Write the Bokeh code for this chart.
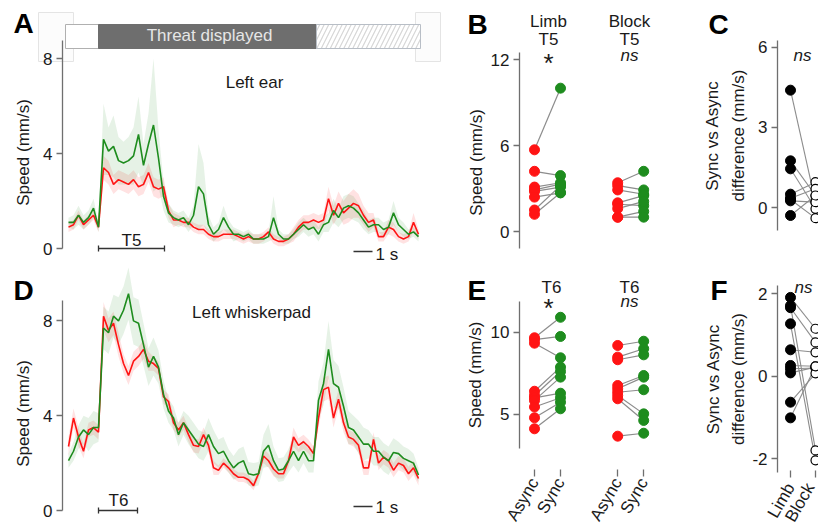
import math
from bokeh.plotting import figure
from bokeh.layouts import row, column
from bokeh.models import Range1d, FixedTicker, Label, ColumnDataSource
from bokeh.embed import file_html
from bokeh.resources import INLINE

FONT = "Liberation Sans"
TXT = "#1a1a1a"
AXC = "#6f6f6f"
RED = "#ff1414"
GREEN = "#1e8c1e"
LINK = "#8c8c8c"

# ------------------------------------------------------------------ data
# time (s) relative to threat onset, sampled every 0.25 s
time_s = [round(-1.5 + 0.25 * i, 2) for i in range(71)]

threat_start = 0.0
threat_end = 10.9
trace_end = 16.1
t5_window = (0.0, 3.3)
t6_window = (0.0, 1.95)

# Panel A - Left ear speed (mm/s)
ear_async = [0.9, 1.0, 1.4, 1.0, 1.2, 1.4,
             0.9, 3.4, 3.2, 2.7, 2.9, 2.8, 2.7, 2.9,
             2.6, 2.7, 3.2, 2.6, 2.5, 2.6, 1.6, 1.2,
             1.2, 1.1, 1.1, 0.9, 0.8, 0.8, 0.6, 0.5,
             0.5, 0.6, 0.6, 0.6, 0.5, 0.4, 0.5, 0.4,
             0.4, 0.5, 0.7, 0.4, 0.3, 0.3, 0.4, 0.6,
             0.9, 1.1, 1.1, 1.2, 1.1, 1.2, 2.1, 1.4,
             1.9, 1.5, 1.7, 1.9, 1.8, 1.4, 1.1, 1.2,
             0.5, 0.5, 0.9, 0.8, 0.5, 0.4, 0.5, 1.1,
             0.6]
ear_async_sem = [0.2, 0.2, 0.2, 0.2, 0.2, 0.2,
                 0.2, 0.5, 0.5, 0.4, 0.4, 0.4, 0.4, 0.4,
                 0.4, 0.4, 0.4, 0.4, 0.4, 0.4, 0.3, 0.3,
                 0.2, 0.2, 0.2, 0.2, 0.2, 0.2, 0.2, 0.2,
                 0.2, 0.2, 0.2, 0.2, 0.2, 0.2, 0.2, 0.2,
                 0.2, 0.2, 0.2, 0.2, 0.2, 0.2, 0.2, 0.3,
                 0.3, 0.3, 0.3, 0.3, 0.3, 0.3, 0.5, 0.4,
                 0.5, 0.5, 0.6, 0.6, 0.5, 0.4, 0.4, 0.3,
                 0.2, 0.2, 0.3, 0.3, 0.2, 0.2, 0.2, 0.4,
                 0.2]
ear_sync = [1.1, 1.1, 1.4, 1.1, 1.3, 1.7,
            0.9, 4.6, 4.1, 4.3, 3.7, 3.6, 3.7, 3.9,
            4.8, 3.5, 4.4, 5.2, 3.8, 2.2, 1.5, 1.3,
            1.2, 1.3, 1.0, 1.4, 2.6, 2.3, 1.0, 0.6,
            0.8, 1.3, 0.9, 0.6, 0.6, 0.5, 0.6, 0.4,
            0.4, 0.4, 0.5, 1.3, 0.6, 0.4, 0.4, 0.6,
            0.8, 1.0, 0.8, 0.9, 0.6, 1.0, 1.1, 1.6,
            1.3, 1.7, 1.8, 1.7, 1.5, 1.2, 0.9, 1.0,
            1.0, 0.8, 0.9, 1.5, 1.0, 0.8, 0.6, 0.7,
            0.5]
ear_sync_sem = [0.2, 0.3, 0.4, 0.3, 0.3, 0.4,
                0.2, 1.5, 1.0, 1.3, 1.0, 0.9, 1.0, 1.2,
                1.6, 0.9, 1.3, 2.8, 1.2, 0.6, 0.4, 0.3,
                0.3, 0.3, 0.3, 0.4, 1.8, 1.3, 0.4, 0.3,
                0.3, 0.5, 0.3, 0.3, 0.2, 0.2, 0.2, 0.2,
                0.2, 0.2, 0.2, 0.9, 0.2, 0.2, 0.2, 0.2,
                0.3, 0.3, 0.3, 0.3, 0.3, 0.3, 0.4, 0.5,
                0.4, 0.5, 0.5, 0.5, 0.4, 0.4, 0.3, 0.3,
                0.3, 0.3, 0.3, 0.5, 0.3, 0.3, 0.2, 0.2,
                0.2]

# Panel D - Left whiskerpad speed (mm/s)
whisk_async = [2.7, 3.9, 3.1, 2.5, 3.4, 3.5,
               3.3, 8.2, 7.6, 7.9, 7.0, 6.2, 5.7, 6.3,
               6.5, 6.8, 6.3, 6.2, 6.0, 4.8, 4.6, 3.7,
               3.4, 3.7, 3.2, 2.75, 2.7, 3.2, 2.75, 1.8,
               1.7, 2.0, 1.8, 1.55, 1.4, 1.4, 1.3, 1.05,
               1.55, 2.3, 2.1, 1.75, 1.55, 1.55, 2.1, 3.1,
               2.75, 2.9, 2.7, 2.4, 3.9, 5.1, 5.2, 3.9,
               4.7, 3.7, 3.1, 3.0, 2.75, 1.8, 1.8, 3.0,
               2.0, 2.25, 2.1, 1.7, 2.0, 1.9, 1.55, 1.8,
               1.35]
whisk_async_sem = [0.4, 0.4, 0.4, 0.3, 0.3, 0.3,
                   0.3, 0.6, 0.5, 0.5, 0.5, 0.4, 0.4, 0.4,
                   0.4, 0.4, 0.4, 0.3, 0.3, 0.3, 0.3, 0.3,
                   0.3, 0.3, 0.3, 0.3, 0.3, 0.3, 0.3, 0.3,
                   0.2, 0.2, 0.2, 0.2, 0.2, 0.2, 0.2, 0.2,
                   0.2, 0.3, 0.3, 0.3, 0.2, 0.2, 0.3, 0.4,
                   0.3, 0.3, 0.3, 0.3, 0.4, 0.5, 0.5, 0.4,
                   0.4, 0.4, 0.3, 0.3, 0.3, 0.3, 0.3, 0.3,
                   0.3, 0.3, 0.3, 0.3, 0.3, 0.3, 0.3, 0.3,
                   0.3]
whisk_sync = [2.1, 2.5, 3.1, 3.4, 3.2, 3.5,
              3.5, 7.7, 7.5, 8.2, 8.0, 8.45, 9.15, 8.0,
              7.9, 7.0, 6.05, 6.5, 6.05, 4.9, 4.2, 3.9,
              3.2, 3.7, 3.4, 3.1, 2.8, 2.7, 3.2, 2.7,
              2.4, 2.5, 2.1, 1.8, 2.0, 2.1, 1.55, 1.5,
              1.55, 2.5, 2.75, 2.1, 1.7, 1.75, 2.1, 2.5,
              2.1, 2.5, 2.1, 2.1, 4.65, 5.35, 6.8, 5.35,
              5.2, 4.4, 3.5, 3.4, 3.1, 2.8, 2.8, 2.5,
              2.5, 2.25, 2.1, 2.45, 2.4, 2.2, 2.1, 2.0,
              1.5]
whisk_sync_sem = [0.3, 0.4, 0.5, 0.6, 0.7, 0.7,
                  0.6, 0.9, 0.9, 0.9, 1.0, 1.0, 1.1, 1.0,
                  1.0, 0.9, 0.8, 0.8, 0.7, 0.6, 0.5, 0.5,
                  0.5, 0.5, 0.6, 0.6, 0.6, 0.6, 0.7, 0.7,
                  0.6, 0.6, 0.5, 0.5, 0.6, 0.6, 0.5, 0.5,
                  0.5, 0.7, 0.9, 0.6, 0.5, 0.5, 0.5, 0.6,
                  0.5, 0.5, 0.5, 0.5, 0.8, 0.9, 1.2, 1.0,
                  0.9, 0.8, 0.7, 0.6, 0.7, 0.7, 0.6, 0.6,
                  0.6, 0.6, 0.6, 0.6, 0.5, 0.5, 0.5, 0.4,
                  0.3]

# Panel B - mean ear speed during T5 (mm/s), paired per animal
b_limb_async = [5.7, 4.2, 3.1, 2.9, 2.8, 2.4, 1.5, 1.2]
b_limb_sync = [10.0, 3.9, 3.4, 3.3, 3.1, 2.7, 3.2, 2.7]
b_block_async = [3.4, 3.2, 2.9, 2.0, 1.9, 1.6, 1.0, 1.0]
b_block_sync = [4.2, 2.9, 2.6, 2.5, 1.8, 2.1, 1.4, 1.0]

# Panel C - Sync minus Async difference (mm/s)
c_limb = [4.4, 1.75, 1.45, 0.5, 0.35, 0.3, 0.25, -0.3]
c_block = [0.2, 0.45, -0.05, 0.95, 0.7, -0.4, 0.2, 0.45]

# Panel E - mean whiskerpad speed during T6 (mm/s)
e_limb_async = [9.66, 9.55, 9.33, 6.4, 6.14, 6.0, 5.84, 5.44, 4.78, 4.11]
e_limb_sync = [10.91, 9.74, 8.44, 7.87, 7.6, 6.28, 7.26, 6.0, 5.73, 5.33]
e_block_async = [9.19, 8.48, 8.32, 6.75, 6.55, 6.34, 6.14, 5.94, 3.66]
e_block_sync = [9.45, 8.99, 8.62, 7.36, 7.26, 6.49, 5.02, 4.62, 3.84]

# Panel F - Sync minus Async difference (mm/s)
f_limb = [1.91, 1.71, 1.66, 1.27, 0.64, 0.26, 0.18, 0.08, -0.63, -1.01]
f_block = [1.15, -1.8, 0.82, -2.04, 0.58, 0.24, 0.2, 0.22, 0.07, 0.24]

cond_labels = ["Async", "Sync", "Async", "Sync"]
group_labels = ["Limb", "Block"]
speed_title = "Speed (mm/s)"
diff_title = "Sync vs Async\ndifference (mm/s)"

for arr in (ear_async, ear_async_sem, ear_sync, ear_sync_sem,
            whisk_async, whisk_async_sem, whisk_sync, whisk_sync_sem):
    assert len(arr) == len(time_s), len(arr)

# ------------------------------------------------------------------ helpers

def base_fig(w, h, xr, yr, xaxis):
    p = figure(width=w, height=h, x_range=Range1d(*xr), y_range=Range1d(*yr),
               output_backend="svg", toolbar_location=None,
               x_axis_location=("below" if xaxis else None))
    p.min_border_left = p.min_border_right = 0
    p.min_border_top = p.min_border_bottom = 0
    p.outline_line_color = None
    p.grid.visible = False
    p.background_fill_color = "white"
    p.border_fill_color = "white"
    return p


def style_y(p, at, ticks, bounds, label, label_standoff, overrides=None):
    ax = p.yaxis[0]
    ax.fixed_location = at
    ax.ticker = FixedTicker(ticks=ticks)
    ax.bounds = bounds
    if label:
        ax.axis_label = label
    ax.axis_line_color = AXC
    ax.axis_line_width = 1.3
    ax.major_tick_line_color = AXC
    ax.major_tick_line_width = 1.3
    ax.major_tick_out = 6
    ax.major_tick_in = 0
    ax.minor_tick_line_color = None
    ax.major_label_text_font = FONT
    ax.major_label_text_font_size = "17px"
    ax.major_label_text_color = TXT
    ax.major_label_standoff = 4
    ax.axis_label_text_font = FONT
    ax.axis_label_text_font_size = "17px"
    ax.axis_label_text_font_style = "normal"
    ax.axis_label_text_color = TXT
    ax.axis_label_text_line_height = 1.35
    ax.axis_label_standoff = label_standoff
    if overrides:
        ax.major_label_overrides = overrides


def style_x(p, at, ticks, names, standoff):
    ax = p.xaxis[0]
    ax.fixed_location = at
    ax.ticker = FixedTicker(ticks=ticks)
    ax.major_label_overrides = {t: n for t, n in zip(ticks, names)}
    ax.axis_line_color = None
    ax.major_tick_line_color = AXC
    ax.major_tick_line_width = 1.3
    ax.major_tick_out = 7
    ax.major_tick_in = 0
    ax.minor_tick_line_color = None
    ax.major_label_text_font = FONT
    ax.major_label_text_font_size = "17px"
    ax.major_label_text_color = TXT
    ax.major_label_orientation = math.radians(60)
    ax.major_label_standoff = standoff


def lab(p, x, y, text, size="17px", align="center", style="normal", color=TXT, angle=0.0):
    # y is the visual middle of the text line
    p.add_layout(Label(x=x, y=y, text=text, text_font=FONT, text_font_size=size,
                       text_align=align, text_baseline="middle", angle=angle,
                       text_font_style=style, text_color=color))


def traces(p, a, a_sem, s, s_sem):
    src = ColumnDataSource(dict(
        t=time_s, a=a, s=s,
        a_lo=[m - e for m, e in zip(a, a_sem)], a_hi=[m + e for m, e in zip(a, a_sem)],
        s_lo=[m - e for m, e in zip(s, s_sem)], s_hi=[m + e for m, e in zip(s, s_sem)]))
    p.varea(x="t", y1="a_lo", y2="a_hi", source=src, fill_color=RED, fill_alpha=0.12)
    p.varea(x="t", y1="s_lo", y2="s_hi", source=src, fill_color=GREEN, fill_alpha=0.11)
    p.line("t", "a", source=src, line_color=RED, line_width=1.6)
    p.line("t", "s", source=src, line_color=GREEN, line_width=1.6)


def pairs(p, xa, xs, av, sv):
    n = len(av)
    p.segment(x0=[xa] * n, y0=av, x1=[xs] * n, y1=sv, line_color=LINK, line_width=1.2)
    p.scatter([xa] * n, av, size=10, marker="circle", fill_color=RED, line_color=RED)
    p.scatter([xs] * n, sv, size=10, marker="circle", fill_color=GREEN, line_color=GREEN)


def diffs(p, limb, block):
    n = len(limb)
    p.segment(x0=[1] * n, y0=limb, x1=[2] * n, y1=block, line_color=LINK, line_width=1.1)
    p.scatter([1] * n, limb, size=10, marker="circle", fill_color="black", line_color="black")
    p.scatter([2] * n, block, size=9, marker="circle", fill_color="white",
              line_color="black", line_width=1.2)


def bracket(p, t0, t1, y, cap):
    p.segment(x0=[t0, t0, t1], y0=[y, y - cap, y - cap], x1=[t1, t0, t1], y1=[y, y + cap, y + cap],
              line_color="#333333", line_width=1.3)

# page-pixel -> data helpers (layout only)
tx = lambda px: (px - 98) / 20.0
vA = lambda py: (248 - py) / 23.75
vD = lambda py: (510 - py) / 23.7
bx = lambda px: 1 + (px - 534) / 26.0
vB = lambda py: (231 - py) / 14.333
vE = lambda py: 10 - (py - 331.7) / 16.4
cx = lambda px: 1 + (px - 790) / 25.0
vC = lambda py: (207 - py) / 26.667
vF = lambda py: (375.7 - py) / 41.25
XPOS = [1, 2, 4.2, 5.2]
UP = math.pi / 2

# ------------------------------------------------------------------ panel A
pA = base_fig(452, 264, (tx(0), tx(452)), (vA(264), vA(0)), False)
style_y(pA, tx(62), [0, 4, 8], (0, vA(40)), None, 9)
pA.quad(left=[tx(38), tx(415)], right=[tx(73), tx(440)], top=[vA(12)] * 2, bottom=[vA(61)] * 2,
        fill_color="#fcfcfc", line_color="#e4e4e4")
pA.quad(left=[tx(65)], right=[threat_start], top=[vA(24)], bottom=[vA(48)],
        fill_color="white", line_color="#b0b0b0")
pA.quad(left=[threat_start], right=[threat_end], top=[vA(24)], bottom=[vA(48)],
        fill_color="#6e6e6e", line_color="#6e6e6e")
pA.quad(left=[threat_end], right=[trace_end], top=[vA(24)], bottom=[vA(48)],
        fill_color="white", line_color="#b8bec6", hatch_pattern="/",
        hatch_color="#d6d6d6", hatch_scale=9, hatch_weight=1.2)
traces(pA, ear_async, ear_async_sem, ear_sync, ear_sync_sem)
bracket(pA, t5_window[0], t5_window[1], 0, 0.13)
pA.segment(x0=[tx(353)], y0=[vA(251)], x1=[tx(372)], y1=[vA(251)], line_color="#333333", line_width=1.3)
lab(pA, tx(13), vA(23), "A", size="28px", align="left", style="bold", color="black")
lab(pA, tx(22.5), vA(152), speed_title, angle=UP)
lab(pA, tx(209), vA(34.5), "Threat displayed", color="#e6e6e6")
lab(pA, tx(254), vA(82), "Left ear")
lab(pA, tx(131), vA(240), "T5")
lab(pA, tx(375), vA(254), "1 s", align="left")

# ------------------------------------------------------------------ panel D
pD = base_fig(452, 260, (tx(0), tx(452)), (vD(524), vD(264)), False)
style_y(pD, tx(62), [0, 4, 8], (0, vD(300)), None, 9)
traces(pD, whisk_async, whisk_async_sem, whisk_sync, whisk_sync_sem)
bracket(pD, t6_window[0], t6_window[1], 0, 0.13)
pD.segment(x0=[tx(353)], y0=[vD(506)], x1=[tx(372)], y1=[vD(506)], line_color="#333333", line_width=1.3)
lab(pD, tx(13), vD(290), "D", size="28px", align="left", style="bold", color="black")
lab(pD, tx(23), vD(413), speed_title, angle=UP)
lab(pD, tx(251), vD(311.7), "Left whiskerpad")
lab(pD, tx(118), vD(500), "T6")
lab(pD, tx(375), vD(507), "1 s", align="left")

# ------------------------------------------------------------------ panel B
pB = base_fig(224, 264, (bx(452), bx(676)), (vB(264), vB(0)), False)
style_y(pB, bx(519), [0, 6, 12], (vB(248), vB(52)), None, 3)
pairs(pB, XPOS[0], XPOS[1], b_limb_async, b_limb_sync)
pairs(pB, XPOS[2], XPOS[3], b_block_async, b_block_sync)
lab(pB, bx(467), vB(24), "B", size="28px", align="left", style="bold", color="black")
lab(pB, bx(475.5), vB(162), speed_title, angle=UP)
lab(pB, bx(548), vB(21), group_labels[0])
lab(pB, bx(548), vB(39), "T5")
lab(pB, bx(548), vB(62.5), "*", size="26px")
lab(pB, bx(629), vB(21), group_labels[1])
lab(pB, bx(629), vB(39), "T5")
lab(pB, bx(629), vB(54.5), "ns", style="italic")

# ------------------------------------------------------------------ panel E
pE = base_fig(224, 260, (bx(452), bx(676)), (vE(524), vE(264)), True)
style_y(pE, bx(519), [5, 10], (vE(448), vE(300.7)), speed_title, 3)
style_x(pE, vE(469), XPOS, cond_labels, 3)
pairs(pE, XPOS[0], XPOS[1], e_limb_async, e_limb_sync)
pairs(pE, XPOS[2], XPOS[3], e_block_async, e_block_sync)
lab(pE, bx(467), vE(290), "E", size="28px", align="left", style="bold", color="black")
lab(pE, bx(551), vE(286.7), "T6")
lab(pE, bx(548), vE(307.5), "*", size="26px")
lab(pE, bx(629), vE(286.7), "T6")
lab(pE, bx(629), vE(300.5), "ns", style="italic")

# ------------------------------------------------------------------ panel C
pC = base_fig(142, 264, (cx(676), cx(818)), (vC(264), vC(0)), False)
style_y(pC, cx(777), [0, 3, 6], (vC(230), vC(40)), diff_title, 7)
diffs(pC, c_limb, c_block)
lab(pC, cx(708), vC(24), "C", size="28px", align="left", style="bold", color="black")
lab(pC, cx(802), vC(55), "ns", style="italic")

# ------------------------------------------------------------------ panel F
pF = base_fig(142, 260, (cx(676), cx(818)), (vF(524), vF(264)), True)
style_y(pF, cx(777), [-2, 0, 2], (vF(472), vF(285)), diff_title, 1,
        overrides={-2: "-2"})
style_x(pF, vF(470), [1, 2], group_labels, 7)
diffs(pF, f_limb, f_block)
lab(pF, cx(710), vF(290), "F", size="28px", align="left", style="bold", color="black")
lab(pF, cx(803), vF(287), "ns", style="italic")

layout = column(row(pA, pB, pC), row(pD, pE, pF))
open("out.html", "w").write(file_html(layout, INLINE))
